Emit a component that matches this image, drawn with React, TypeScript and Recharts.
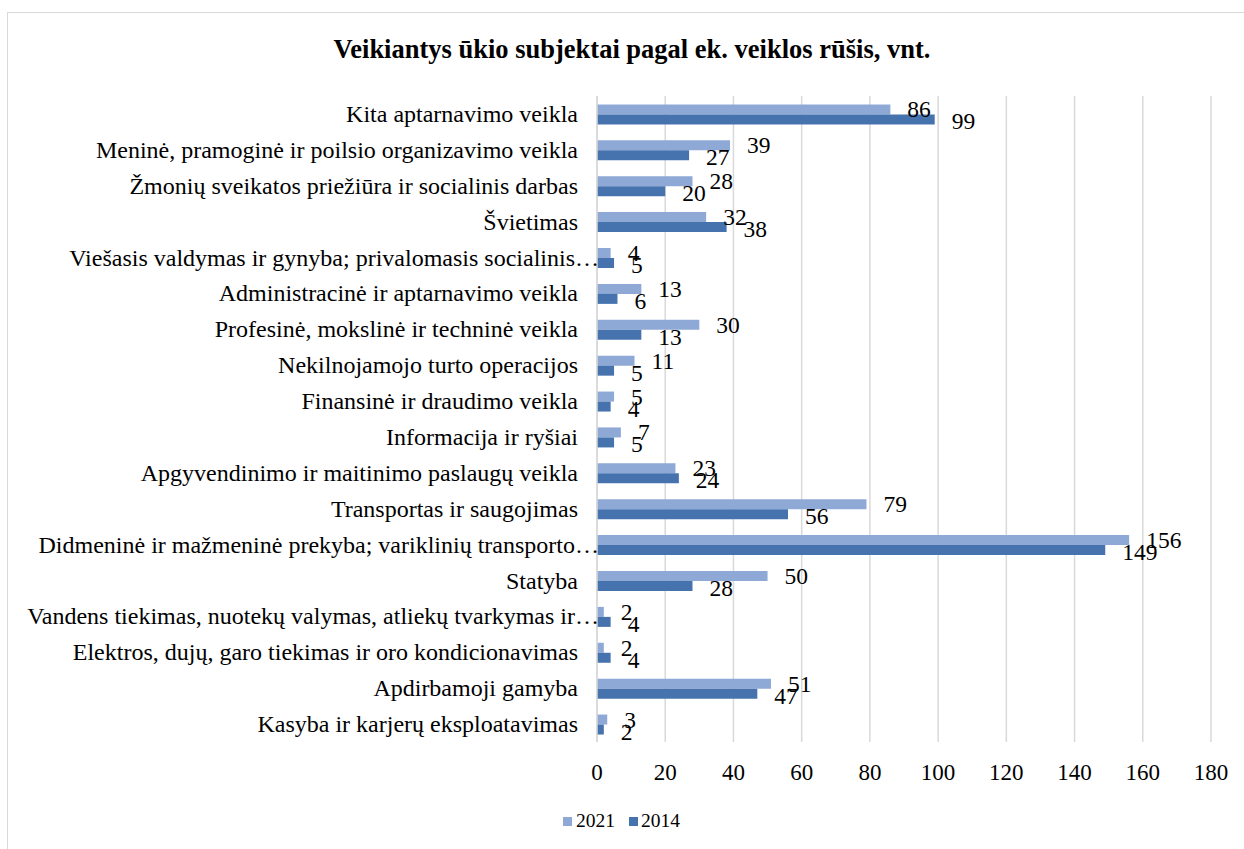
import React from 'react';
import { BarChart, Bar, XAxis, YAxis, CartesianGrid, LabelList } from 'recharts';

const categories = [
  'Kita aptarnavimo veikla',
  'Meninė, pramoginė ir poilsio organizavimo veikla',
  'Žmonių sveikatos priežiūra ir socialinis darbas',
  'Švietimas',
  'Viešasis valdymas ir gynyba; privalomasis socialinis…',
  'Administracinė ir aptarnavimo veikla',
  'Profesinė, mokslinė ir techninė veikla',
  'Nekilnojamojo turto operacijos',
  'Finansinė ir draudimo veikla',
  'Informacija ir ryšiai',
  'Apgyvendinimo ir maitinimo paslaugų veikla',
  'Transportas ir saugojimas',
  'Didmeninė ir mažmeninė prekyba; variklinių transporto…',
  'Statyba',
  'Vandens tiekimas, nuotekų valymas, atliekų tvarkymas ir…',
  'Elektros, dujų, garo tiekimas ir oro kondicionavimas',
  'Apdirbamoji gamyba',
  'Kasyba ir karjerų eksploatavimas',
];

const values2021 = [86, 39, 28, 32, 4, 13, 30, 11, 5, 7, 23, 79, 156, 50, 2, 2, 51, 3];
const values2014 = [99, 27, 20, 38, 5, 6, 13, 5, 4, 5, 24, 56, 149, 28, 4, 4, 47, 2];

const xTicks = [0, 20, 40, 60, 80, 100, 120, 140, 160, 180];

const data = categories.map((name, i) => ({
  name,
  y2021: values2021[i],
  y2014: values2014[i],
}));

const FONT = 'Liberation Serif, Times New Roman, serif';
const LIGHT = '#8fa9d6';
const DARK = '#4673ae';

// truncated names run right up to the axis, the others stop a bit before it
const CategoryTick = (props: any) => {
  const { x, y, payload } = props;
  const cut = String(payload.value).endsWith('…');
  return (
    <text x={cut ? x + 10 : x - 11} y={y} textAnchor="end" dominantBaseline="central" fontFamily={FONT} fontSize={24} fill="#000">
      {payload.value}
    </text>
  );
};

const makeLabel = (dy: number) => (props: any) => {
  const { x, y, width, height, value } = props;
  return (
    <text x={x + width + 17} y={y + height / 2 + dy} dominantBaseline="central" fontFamily={FONT} fontSize={23.5} fill="#000">
      {value}
    </text>
  );
};

export default function App() {
  return (
    <div style={{ position: 'absolute', left: 0, top: 0, width: 1244, height: 849, background: '#fff', overflow: 'hidden', fontFamily: FONT }}>
      <div style={{ position: 'absolute', left: 7, top: 12, width: 1260, height: 860, border: '1px solid #d9d9d9' }} />
      <div style={{ position: 'absolute', left: 0, width: 1264, top: 34, textAlign: 'center', fontWeight: 'bold', fontSize: 26.5, color: '#000' }}>
        Veikiantys ūkio subjektai pagal ek. veiklos rūšis, vnt.
      </div>
      <div style={{ position: 'absolute', left: 0, top: 0 }}>
        <BarChart
          width={1244}
          height={849}
          data={data}
          layout="vertical"
          margin={{ top: 96, right: 33, left: 0, bottom: 0 }}
          barCategoryGap="23.5%"
          barGap={0}
        >
          <CartesianGrid horizontal={false} stroke="#d9d9d9" strokeWidth={1.5} />
          <XAxis
            type="number"
            domain={[0, 180]}
            ticks={xTicks}
            axisLine={false}
            tickLine={false}
            height={107}
            tickMargin={16}
            tick={{ fontFamily: FONT, fontSize: 23, fill: '#000' }}
          />
          <YAxis
            type="category"
            dataKey="name"
            width={597}
            axisLine={{ stroke: '#d9d9d9', strokeWidth: 1.5 }}
            tickLine={false}
            interval={0}
            tick={<CategoryTick />}
          />
          <Bar dataKey="y2021" fill={LIGHT} isAnimationActive={false}>
            <LabelList dataKey="y2021" content={makeLabel(0)} />
          </Bar>
          <Bar dataKey="y2014" fill={DARK} isAnimationActive={false}>
            <LabelList dataKey="y2014" content={makeLabel(2)} />
          </Bar>
        </BarChart>
      </div>
      <div style={{ position: 'absolute', left: 563, top: 810, display: 'flex', alignItems: 'center', fontSize: 19.5, color: '#000' }}>
        <span style={{ width: 9, height: 9, background: LIGHT, display: 'inline-block', marginRight: 4 }} />
        <span style={{ marginRight: 14 }}>2021</span>
        <span style={{ width: 9, height: 9, background: DARK, display: 'inline-block', marginRight: 3 }} />
        <span>2014</span>
      </div>
    </div>
  );
}
